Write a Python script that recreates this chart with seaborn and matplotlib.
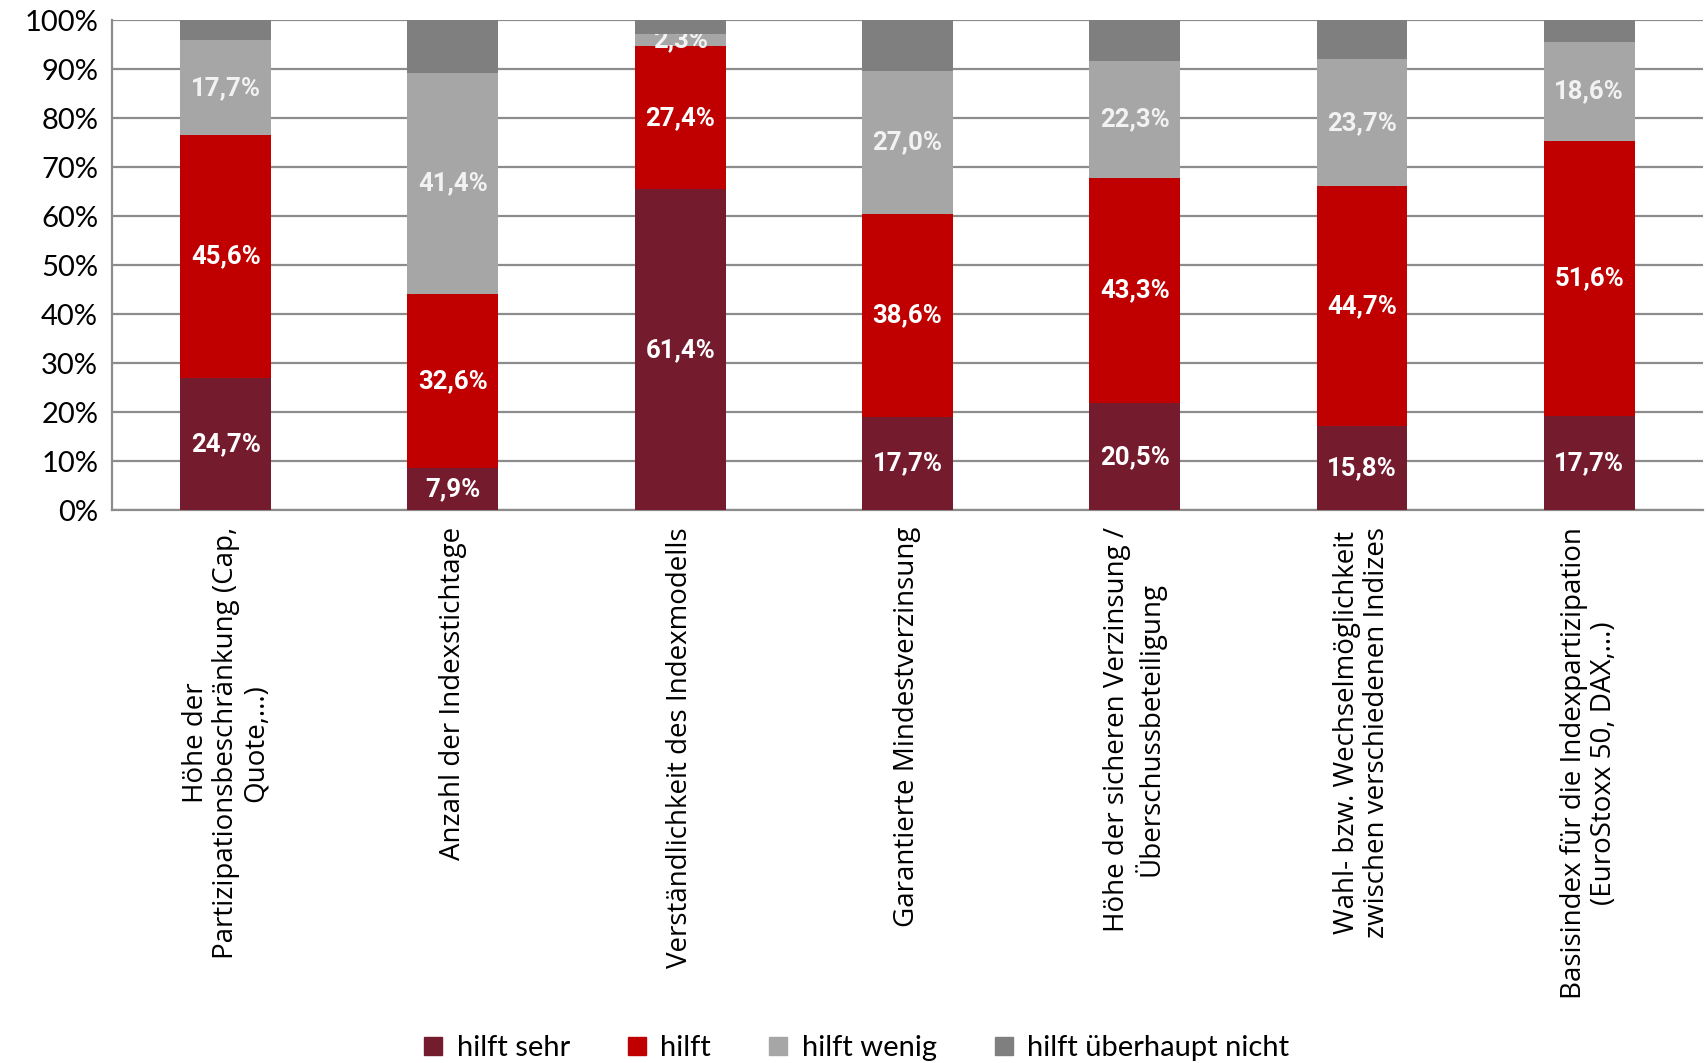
import matplotlib
matplotlib.use('Agg')
import numpy as np
import pandas as pd
import matplotlib.pyplot as plt
import seaborn as sns
from matplotlib.ticker import FixedLocator, PercentFormatter

# categories (x axis)
categories = [
    'Höhe der\nPartizipationsbeschränkung (Cap,\nQuote,...)',
    'Anzahl der Indexstichtage',
    'Verständlichkeit des Indexmodells',
    'Garantierte Mindestverzinsung',
    'Höhe der sicheren Verzinsung /\nÜberschussbeteiligung',
    'Wahl- bzw. Wechselmöglichkeit\nzwischen verschiedenen Indizes',
    'Basisindex für die Indexpartizipation\n(EuroStoxx 50, DAX,...)',
]
levels = ['hilft sehr', 'hilft', 'hilft wenig', 'hilft überhaupt nicht']

# answer shares in % (last series not labelled in the chart -> estimated)
hilft_sehr = [24.7, 7.9, 61.4, 17.7, 20.5, 15.8, 17.7]
hilft = [45.6, 32.6, 27.4, 38.6, 43.3, 44.7, 51.6]
hilft_wenig = [17.7, 41.4, 2.3, 27.0, 22.3, 23.7, 18.6]
hilft_nicht = [3.8, 9.8, 2.7, 9.7, 7.9, 7.3, 4.0]

colors = ['#741C2E', '#C00000', '#A6A6A6', '#7F7F7F']
label_colors = ['white', 'white', '#F2F2F2', None]

raw = pd.DataFrame({'hilft sehr': hilft_sehr, 'hilft': hilft,
                    'hilft wenig': hilft_wenig, 'hilft überhaupt nicht': hilft_nicht},
                   index=categories)
# 100% stacked: normalise each bar
share = raw.div(raw.sum(axis=1), axis=0) * 100

sns.set_style('white')
plt.rcParams['font.family'] = ['Lato', 'DejaVu Sans']
plt.rcParams['text.color'] = 'black'
plt.rcParams['xtick.labelcolor'] = 'black'
plt.rcParams['ytick.labelcolor'] = 'black'

fig = plt.figure(figsize=(17.08, 10.63), dpi=100)
ax = fig.add_axes([0.0656, 0.520, 0.9314, 0.461])

bottom = np.zeros(len(categories))
for lvl, col, lcol in zip(levels, colors, label_colors):
    df = pd.DataFrame({'cat': categories, 'val': share[lvl].values})
    sns.barplot(data=df, x='cat', y='val', order=categories, color=col,
                width=0.4, bottom=bottom, saturation=1, ax=ax, zorder=3,
                linewidth=0)
    cont = ax.containers[-1]
    if lcol is not None:
        labels = [f'{v:.1f}%'.replace('.', ',') for v in raw[lvl]]
        ax.bar_label(cont, labels=labels, label_type='center', color=lcol,
                     fontsize=18.5, fontweight='bold', family='Roboto')
    bottom = bottom + share[lvl].values

ax.set_ylim(0, 100)
ax.set_xlim(-0.5, len(categories) - 0.5)
ax.yaxis.set_major_locator(FixedLocator(np.arange(0, 101, 10)))
ax.yaxis.set_major_formatter(PercentFormatter(decimals=0))
ax.grid(axis='y', color='#8C8C8C', linewidth=1.6, zorder=0)
ax.set_axisbelow(True)
ax.set_xlabel('')
ax.set_ylabel('')

ax.set_xticks(range(len(categories)))
ax.set_xticklabels(categories, rotation=90, ha='center', va='top',
                   multialignment='center', fontsize=20, family='Open Sans',
                   linespacing=1.1)
ax.xaxis.set_minor_locator(FixedLocator(np.arange(-0.5, len(categories), 1)))
ax.tick_params(axis='x', which='major', length=0, pad=12)
ax.tick_params(axis='x', which='minor', length=11, width=1.5, color='#8C8C8C')
ax.tick_params(axis='y', length=6, width=1.5, color='#8C8C8C', labelsize=21, pad=4)

for s in ['top', 'right']:
    ax.spines[s].set_visible(False)
for s in ['left', 'bottom']:
    ax.spines[s].set_color('#8C8C8C')
    ax.spines[s].set_linewidth(1.6)

handles = [plt.Line2D([], [], marker='s', linestyle='', markersize=13,
                      markerfacecolor=c, markeredgecolor=c) for c in colors]
fig.legend(handles, levels, loc='center', bbox_to_anchor=(0.5, 0.014),
           ncol=4, frameon=False, fontsize=21, handletextpad=0.3,
           columnspacing=1.8, handlelength=1.0)

fig.savefig('out.png', dpi=100)
